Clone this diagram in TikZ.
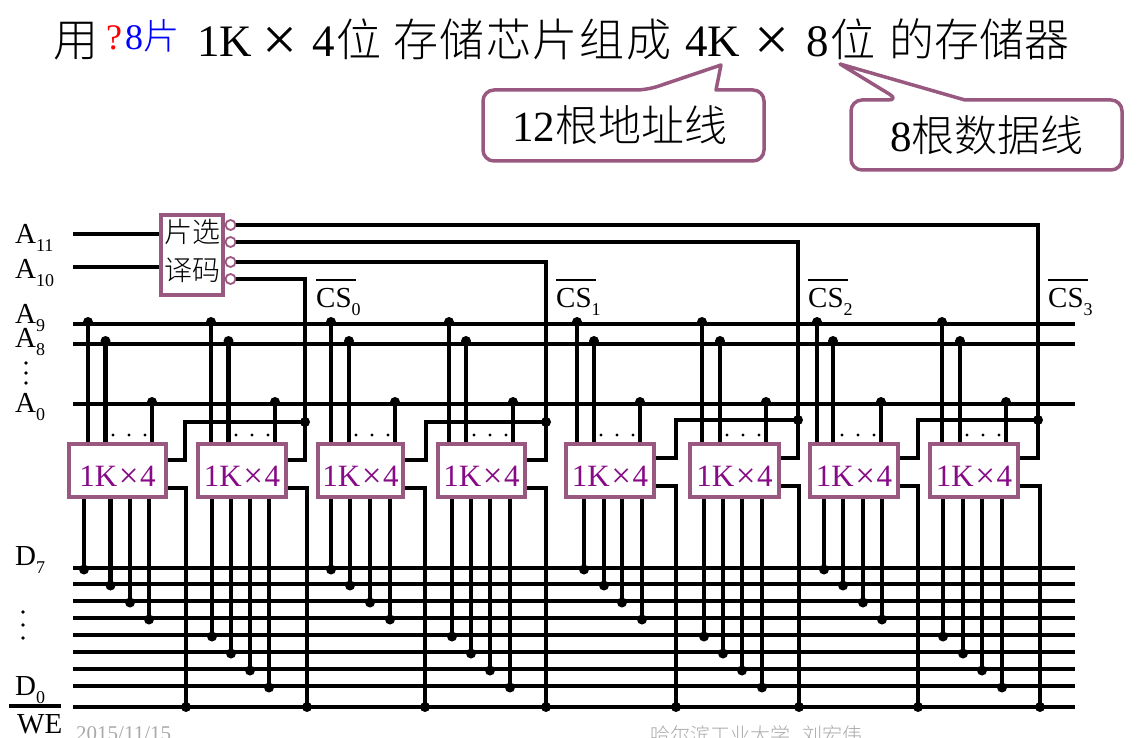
\documentclass[tikz,border=0pt]{standalone}
\usepackage{fontspec}
\usepackage{amsmath}
\usetikzlibrary{calc, positioning}
\setmainfont{Liberation Serif}
\newfontfamily\cjk{Noto Sans CJK SC}[UprightFont={* Light}]
\newfontfamily\cjkwide{Noto Sans CJK SC}[UprightFont={* Light}, LetterSpace=3.5]
\definecolor{plum}{RGB}{152,88,128}
\definecolor{chipink}{RGB}{135,10,135}
\definecolor{footgrey}{RGB}{170,170,170}
\newcommand{\fsize}[1]{\fontsize{#1}{#1}\selectfont}
\newcommand{\lowidx}[1]{\raisebox{-8pt}{\fsize{18}#1}}
\newcommand{\csbar}[1]{\rlap{\rule[26pt]{40pt}{2pt}}CS\lowidx{#1}}
\newcommand{\chiptext}{1K\kern1.5pt\raisebox{-1.5pt}{\fsize{35}×}\kern1.5pt 4}
\tikzset{
	wire/.style = {draw=black, line width=4.2pt, line join=miter},
	chip/.style = {draw=plum, line width=4pt, fill=white, minimum height=53pt, inner sep=0pt,
					text height=31pt, text depth=0pt, font=\fsize{31}, text=chipink},
	bubble/.style = {circle, draw=plum, line width=1.8pt, fill=white, minimum size=10pt, inner sep=0pt},
	lab/.style = {anchor=base west, inner sep=0pt, font=\fsize{29}},
	ttl/.style = {anchor=base west, inner sep=0pt, font=\fsize{45}},
	callout/.style = {draw=plum, line width=3.5pt, fill=white, line join=round},
	foot/.style = {anchor=base west, inner sep=0pt, text=footgrey, font=\fsize{21}}
}
\begin{document}
\begin{tikzpicture}[x=1pt, y=-1pt]
	\useasboundingbox (0,0) rectangle (1142,738);

%Title
	\node[ttl] (tUse) at (53,57) {\cjk 用};
	\node[ttl, text=red, font=\fsize{36}] (tAsk) at (106,50) {?};
	\node[ttl, text=blue, font=\fsize{36}] (tEight) at (125,50) {8\cjk 片};
	\node[ttl] (tSmall) at (197,57) {1K};
	\node[ttl, font=\fsize{62}] (tTimesA) at (262,61) {×};
	\node[ttl] (tFour) at (312,57) {4\kern2pt\cjk 位};
	\node[ttl] (tChips) at (393,57) {\cjkwide 存储芯片组成};
	\node[ttl] (tBig) at (685,57) {4K};
	\node[ttl, font=\fsize{62}] (tTimesB) at (754,61) {×};
	\node[ttl] (tByte) at (806,57) {8\kern2pt\cjk 位};
	\node[ttl] (tEnd) at (889,57) {\cjk 的存储器};

%Callouts
	\draw[callout, rounded corners=11pt] (647,90) [sharp corners] -- (721,65) -- (716,90)
		[rounded corners=11pt] -- (764,90) -- (764,161) -- (483,161) -- (483,90) -- cycle;
	\draw[callout, rounded corners=11pt] (899,100) [sharp corners] -- (840,64) -- (965,100)
		[rounded corners=11pt] -- (1122,100) -- (1122,170) -- (851,170) -- (851,100) -- cycle;
	\node[ttl, font=\fsize{43}] (addrText) at (512,142) {12\cjk 根地址线};
	\node[ttl, font=\fsize{43}] (dataText) at (890,152) {8\cjk 根数据线};

%Decoder
	\node[draw=plum, line width=4pt, fill=white, minimum width=62pt, minimum height=80pt, inner sep=0pt] (decoder) at (192,255) {};
	\node[font=\fsize{28}\cjk, inner sep=0pt] (decTop) at (192,232) {片选};
	\node[font=\fsize{28}\cjk, inner sep=0pt] (decBottom) at (192,270) {译码};
	\foreach \k/\y in {3/225, 2/242, 1/262, 0/279}
		\node[bubble] (bub\k) at (230.5,\y) {};

%Buses
	\foreach \name/\y in {a9/324, a8/344, a0/404, d1/568, d2/584, d3/601, d4/618, d5/635, d6/652, d7/669, d8/686, we/707}
	{
		\coordinate (\name-l) at (73,\y);
		\coordinate (\name-r) at (1075,\y);
		\draw[wire] (\name-l) -- (\name-r);
	}
	\coordinate (a11) at (73,234);
	\coordinate (a10) at (73,267);
	\draw[wire] (a11) -- (a11 -| decoder.west);
	\draw[wire] (a10) -- (a10 -| decoder.west);

%Chips with address taps and write enable
	\foreach \n/\xc/\w/\xa/\xb/\xd/\xwe/\ywe in {
		1/117.5/97/88/105.5/152/186/488,
		2/242/88/211/228.5/275/307/488,
		3/360.5/85/331/349/395/425/488,
		4/481.5/87/449/466/513/546/488,
		5/610/88/577/594/640/676/486,
		6/734.5/89/702/720/766/799/486,
		7/854/88/817/833/881/918/486,
		8/974/88/942/960/1006/1040/486}
	{
		\node[chip, minimum width=\w pt] (chip\n) at (\xc,470.5) {\chiptext};
		\coordinate (t1) at (\xa,322);
		\coordinate (t2) at (\xb,341);
		\coordinate (t3) at (\xd,402);
		\foreach \t in {t1,t2,t3}
		{
			\draw[wire] (\t) -- (\t |- chip\n.north);
			\fill[black] (\t) circle (5pt);
		}
		\foreach \d in {39,23,7}
			\fill[black] ($(\xd,435)-(\d,0)$) circle (1.7pt);
		\coordinate (w\n) at (\xwe,\ywe);
		\draw[wire] (chip\n.east |- w\n) -- (w\n) -- (w\n |- we-l);
		\fill[black] (w\n |- we-l) circle (5pt);
	}

%Data taps
	\foreach \n/\first/\xa/\xb/\xc/\xd in {
		1/1/84/110.5/130/149,
		2/5/212/231/250/269,
		3/1/331/350/370/390,
		4/5/452/471/490/510,
		5/1/584/604/622/642,
		6/5/704/723/742/762,
		7/1/824/843/863/882,
		8/5/943/963/982/1002}
	{
		\foreach \x [count=\j] in {\xa,\xb,\xc,\xd}
		{
			\pgfmathtruncatemacro{\row}{\first+\j-1}
			\coordinate (tap) at (\x,0 |- d\row-l);
			\draw[wire] (\x,0 |- chip\n.south) -- (tap);
			\fill[black] ($(tap)+(0,1.5)$) circle (5pt);
		}
	}

%Chip select lines
	\foreach \k/\xcs/\xbr/\na/\nb/\yj/\yc in {
		0/305/185/1/2/422/460,
		1/546/426/3/4/422/460,
		2/798/676/5/6/420/458,
		3/1038/918/7/8/420/458}
	{
		\coordinate (cs\k) at (\xcs,\yc);
		\coordinate (join\k) at (\xcs,\yj);
		\coordinate (bend\k) at (\xbr,\yc);
		\draw[wire] (bub\k.east) -| (cs\k) -- (cs\k -| chip\nb.east);
		\draw[wire] (join\k) -| (bend\k) -- (bend\k -| chip\na.east);
		\fill[black] (join\k) circle (5pt);
	}

%Labels
	\node[lab] (lA11) at (15,243) {A\lowidx{11}};
	\node[lab] (lA10) at (15,278) {A\lowidx{10}};
	\node[lab] (lA9) at (15,323) {A\lowidx{9}};
	\node[lab] (lA8) at (15,347) {A\lowidx{8}};
	\node[lab] (lA0) at (15,412) {A\lowidx{0}};
	\node[lab] (lD7) at (15,565) {D\lowidx{7}};
	\node[lab] (lD0) at (15,695) {D\lowidx{0}};
	\node[lab] (lWE) at (17,733) {WE};
	\coordinate (barL) at (9,706);
	\coordinate (barR) at (61,706);
	\draw[black, line width=3.5pt] (barL) -- (barR);
	\node[lab] (lCS0) at (316,307) {\csbar{0}};
	\node[lab] (lCS1) at (556,307) {\csbar{1}};
	\node[lab] (lCS2) at (808,307) {\csbar{2}};
	\node[lab] (lCS3) at (1048,307) {\csbar{3}};

%Vertical dots
	\foreach \y in {363,373,383}
		\fill[black] (26,\y) circle (1.9pt);
	\foreach \y in {612,625,638}
		\fill[black] (23,\y) circle (1.9pt);

%Footer
	\node[foot] (fDate) at (76,740) {2015/11/15};
	\node[foot, font=\fsize{20}] (fName) at (650,742) {\cjk 哈尔滨工业大学\hspace{12pt}刘宏伟};

\end{tikzpicture}
\end{document}
